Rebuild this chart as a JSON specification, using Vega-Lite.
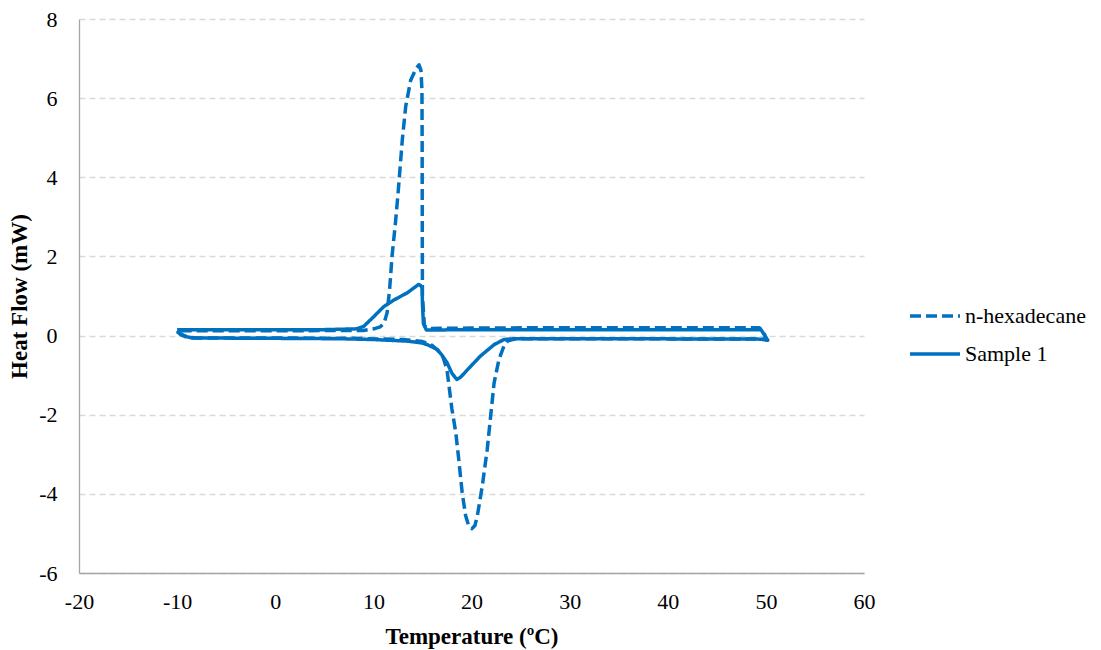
{
  "$schema": "https://vega.github.io/schema/vega-lite/v6.json",
  "width": 785,
  "height": 554,
  "autosize": {"type": "none"},
  "padding": {"left": 79, "top": 19, "right": 237, "bottom": 77},
  "background": "white",
  "config": {
    "view": {"stroke": null},
    "font": "Liberation Serif"
  },
  "data": {"values": [
    {"series": "n-hexadecane", "i": 1, "T": -10.0, "HF": 0.10},
    {"series": "n-hexadecane", "i": 2, "T": -9.6, "HF": 0.02},
    {"series": "n-hexadecane", "i": 3, "T": -9.0, "HF": -0.04},
    {"series": "n-hexadecane", "i": 4, "T": -8.0, "HF": -0.06},
    {"series": "n-hexadecane", "i": 5, "T": 0.0, "HF": -0.06},
    {"series": "n-hexadecane", "i": 6, "T": 8.0, "HF": -0.07},
    {"series": "n-hexadecane", "i": 7, "T": 13.0, "HF": -0.10},
    {"series": "n-hexadecane", "i": 8, "T": 15.0, "HF": -0.15},
    {"series": "n-hexadecane", "i": 9, "T": 16.0, "HF": -0.25},
    {"series": "n-hexadecane", "i": 10, "T": 16.6, "HF": -0.38},
    {"series": "n-hexadecane", "i": 11, "T": 17.1, "HF": -0.55},
    {"series": "n-hexadecane", "i": 12, "T": 17.5, "HF": -0.86},
    {"series": "n-hexadecane", "i": 13, "T": 18.0, "HF": -1.85},
    {"series": "n-hexadecane", "i": 14, "T": 18.4, "HF": -2.45},
    {"series": "n-hexadecane", "i": 15, "T": 18.7, "HF": -3.13},
    {"series": "n-hexadecane", "i": 16, "T": 19.05, "HF": -3.97},
    {"series": "n-hexadecane", "i": 17, "T": 19.4, "HF": -4.55},
    {"series": "n-hexadecane", "i": 18, "T": 19.7, "HF": -4.8},
    {"series": "n-hexadecane", "i": 19, "T": 20.05, "HF": -4.88},
    {"series": "n-hexadecane", "i": 20, "T": 20.35, "HF": -4.8},
    {"series": "n-hexadecane", "i": 21, "T": 20.6, "HF": -4.55},
    {"series": "n-hexadecane", "i": 22, "T": 21.1, "HF": -3.8},
    {"series": "n-hexadecane", "i": 23, "T": 21.6, "HF": -2.88},
    {"series": "n-hexadecane", "i": 24, "T": 21.95, "HF": -2.04},
    {"series": "n-hexadecane", "i": 25, "T": 22.3, "HF": -1.2},
    {"series": "n-hexadecane", "i": 26, "T": 22.8, "HF": -0.6},
    {"series": "n-hexadecane", "i": 27, "T": 23.3, "HF": -0.27},
    {"series": "n-hexadecane", "i": 28, "T": 23.7, "HF": -0.13},
    {"series": "n-hexadecane", "i": 29, "T": 24.5, "HF": -0.08},
    {"series": "n-hexadecane", "i": 30, "T": 35.0, "HF": -0.08},
    {"series": "n-hexadecane", "i": 31, "T": 49.5, "HF": -0.09},
    {"series": "n-hexadecane", "i": 32, "T": 50.0, "HF": -0.1},
    {"series": "n-hexadecane", "i": 33, "T": 49.8, "HF": 0.1},
    {"series": "n-hexadecane", "i": 34, "T": 49.3, "HF": 0.2},
    {"series": "n-hexadecane", "i": 35, "T": 40.0, "HF": 0.2},
    {"series": "n-hexadecane", "i": 36, "T": 30.0, "HF": 0.2},
    {"series": "n-hexadecane", "i": 37, "T": 20.0, "HF": 0.19},
    {"series": "n-hexadecane", "i": 38, "T": 15.6, "HF": 0.18},
    {"series": "n-hexadecane", "i": 39, "T": 15.2, "HF": 0.25},
    {"series": "n-hexadecane", "i": 40, "T": 15.0, "HF": 1.0},
    {"series": "n-hexadecane", "i": 41, "T": 14.98, "HF": 3.0},
    {"series": "n-hexadecane", "i": 42, "T": 14.97, "HF": 5.0},
    {"series": "n-hexadecane", "i": 43, "T": 14.95, "HF": 6.2},
    {"series": "n-hexadecane", "i": 44, "T": 14.85, "HF": 6.7},
    {"series": "n-hexadecane", "i": 45, "T": 14.65, "HF": 6.84},
    {"series": "n-hexadecane", "i": 46, "T": 14.35, "HF": 6.75},
    {"series": "n-hexadecane", "i": 47, "T": 13.8, "HF": 6.45},
    {"series": "n-hexadecane", "i": 48, "T": 13.3, "HF": 5.8},
    {"series": "n-hexadecane", "i": 49, "T": 12.95, "HF": 4.95},
    {"series": "n-hexadecane", "i": 50, "T": 12.55, "HF": 3.7},
    {"series": "n-hexadecane", "i": 51, "T": 12.25, "HF": 2.85},
    {"series": "n-hexadecane", "i": 52, "T": 11.9, "HF": 2.0},
    {"series": "n-hexadecane", "i": 53, "T": 11.65, "HF": 1.15},
    {"series": "n-hexadecane", "i": 54, "T": 11.4, "HF": 0.58},
    {"series": "n-hexadecane", "i": 55, "T": 11.1, "HF": 0.32},
    {"series": "n-hexadecane", "i": 56, "T": 10.7, "HF": 0.22},
    {"series": "n-hexadecane", "i": 57, "T": 10.2, "HF": 0.18},
    {"series": "n-hexadecane", "i": 58, "T": 9.0, "HF": 0.13},
    {"series": "n-hexadecane", "i": 59, "T": 0.0, "HF": 0.12},
    {"series": "n-hexadecane", "i": 60, "T": -9.8, "HF": 0.12},
    {"series": "n-hexadecane", "i": 61, "T": -10.0, "HF": 0.1},
    {"series": "Sample 1", "i": 1, "T": -10.0, "HF": 0.12},
    {"series": "Sample 1", "i": 2, "T": -9.7, "HF": 0.05},
    {"series": "Sample 1", "i": 3, "T": -9.0, "HF": -0.03},
    {"series": "Sample 1", "i": 4, "T": -8.5, "HF": -0.06},
    {"series": "Sample 1", "i": 5, "T": 0.0, "HF": -0.07},
    {"series": "Sample 1", "i": 6, "T": 6.6, "HF": -0.08},
    {"series": "Sample 1", "i": 7, "T": 10.0, "HF": -0.10},
    {"series": "Sample 1", "i": 8, "T": 13.4, "HF": -0.14},
    {"series": "Sample 1", "i": 9, "T": 14.8, "HF": -0.18},
    {"series": "Sample 1", "i": 10, "T": 15.5, "HF": -0.23},
    {"series": "Sample 1", "i": 11, "T": 16.5, "HF": -0.35},
    {"series": "Sample 1", "i": 12, "T": 17.0, "HF": -0.5},
    {"series": "Sample 1", "i": 13, "T": 17.5, "HF": -0.68},
    {"series": "Sample 1", "i": 14, "T": 18.0, "HF": -0.95},
    {"series": "Sample 1", "i": 15, "T": 18.5, "HF": -1.11},
    {"series": "Sample 1", "i": 16, "T": 18.9, "HF": -1.05},
    {"series": "Sample 1", "i": 17, "T": 19.6, "HF": -0.86},
    {"series": "Sample 1", "i": 18, "T": 20.9, "HF": -0.52},
    {"series": "Sample 1", "i": 19, "T": 22.3, "HF": -0.23},
    {"series": "Sample 1", "i": 20, "T": 23.3, "HF": -0.1},
    {"series": "Sample 1", "i": 21, "T": 24.3, "HF": -0.08},
    {"series": "Sample 1", "i": 22, "T": 35.0, "HF": -0.08},
    {"series": "Sample 1", "i": 23, "T": 49.5, "HF": -0.09},
    {"series": "Sample 1", "i": 24, "T": 50.2, "HF": -0.12},
    {"series": "Sample 1", "i": 25, "T": 49.5, "HF": 0.15},
    {"series": "Sample 1", "i": 26, "T": 40.0, "HF": 0.15},
    {"series": "Sample 1", "i": 27, "T": 30.0, "HF": 0.15},
    {"series": "Sample 1", "i": 28, "T": 20.0, "HF": 0.15},
    {"series": "Sample 1", "i": 29, "T": 15.8, "HF": 0.14},
    {"series": "Sample 1", "i": 30, "T": 15.4, "HF": 0.14},
    {"series": "Sample 1", "i": 31, "T": 15.1, "HF": 0.3},
    {"series": "Sample 1", "i": 32, "T": 15.0, "HF": 0.8},
    {"series": "Sample 1", "i": 33, "T": 14.97, "HF": 1.2},
    {"series": "Sample 1", "i": 34, "T": 14.8, "HF": 1.27},
    {"series": "Sample 1", "i": 35, "T": 14.6, "HF": 1.29},
    {"series": "Sample 1", "i": 36, "T": 13.45, "HF": 1.08},
    {"series": "Sample 1", "i": 37, "T": 12.1, "HF": 0.9},
    {"series": "Sample 1", "i": 38, "T": 11.05, "HF": 0.73},
    {"series": "Sample 1", "i": 39, "T": 10.05, "HF": 0.48},
    {"series": "Sample 1", "i": 40, "T": 9.0, "HF": 0.23},
    {"series": "Sample 1", "i": 41, "T": 8.3, "HF": 0.17},
    {"series": "Sample 1", "i": 42, "T": 5.0, "HF": 0.15},
    {"series": "Sample 1", "i": 43, "T": 0.0, "HF": 0.15},
    {"series": "Sample 1", "i": 44, "T": -10.0, "HF": 0.15}
  ]},
  "mark": {"type": "line", "strokeWidth": 3.5, "strokeJoin": "round", "strokeCap": "butt", "clip": false},
  "encoding": {
    "x": {
      "field": "T", "type": "quantitative",
      "scale": {"domain": [-20, 60], "nice": false, "zero": false},
      "axis": {
        "title": "Temperature (ºC)", "values": [-20, -10, 0, 10, 20, 30, 40, 50, 60],
        "labelExpr": "toString(datum.value)",
        "grid": false, "ticks": false, "domainColor": "#A6A6A6", "domainWidth": 1.3,
        "labelFont": "Liberation Serif", "labelColor": "#000000",
        "labelFontSize": 22, "labelPadding": 18, "labelFlush": false,
        "titleFont": "Liberation Serif", "titleColor": "#000000",
        "titleFontSize": 23, "titleFontWeight": "bold", "titlePadding": 13
      }
    },
    "y": {
      "field": "HF", "type": "quantitative",
      "scale": {"domain": [-6, 8], "nice": false, "zero": false},
      "axis": {
        "title": "Heat Flow (mW)", "values": [-6, -4, -2, 0, 2, 4, 6, 8],
        "labelExpr": "toString(datum.value)",
        "grid": true, "gridColor": "#D9D9D9", "gridDash": [6, 4], "gridWidth": 1.3,
        "ticks": false, "domainColor": "#A6A6A6", "domainWidth": 1.3,
        "labelFont": "Liberation Serif", "labelColor": "#000000",
        "labelFontSize": 22, "labelPadding": 22, "labelFlush": false,
        "titleFont": "Liberation Serif", "titleColor": "#000000",
        "titleFontSize": 23, "titleFontWeight": "bold", "titlePadding": 7
      }
    },
    "order": {"field": "i", "type": "quantitative"},
    "color": {
      "field": "series", "type": "nominal",
      "scale": {"domain": ["n-hexadecane", "Sample 1"], "range": ["#0070C0", "#0070C0"]},
      "legend": {
        "title": null, "orient": "none", "legendX": 829, "legendY": 270,
        "symbolType": "stroke", "symbolSize": 2500, "symbolStrokeWidth": 3.5,
        "labelFontSize": 22, "labelFont": "Liberation Serif", "labelColor": "#000000",
        "rowPadding": -15, "labelOffset": 3
      }
    },
    "strokeDash": {
      "field": "series", "type": "nominal",
      "scale": {"domain": ["n-hexadecane", "Sample 1"], "range": [[11, 5], [1, 0]]},
      "legend": {
        "title": null, "orient": "none", "legendX": 829, "legendY": 270,
        "symbolType": "stroke", "symbolSize": 2500, "symbolStrokeWidth": 3.5,
        "labelFontSize": 22, "labelFont": "Liberation Serif", "labelColor": "#000000",
        "rowPadding": -15, "labelOffset": 3
      }
    }
  }
}
